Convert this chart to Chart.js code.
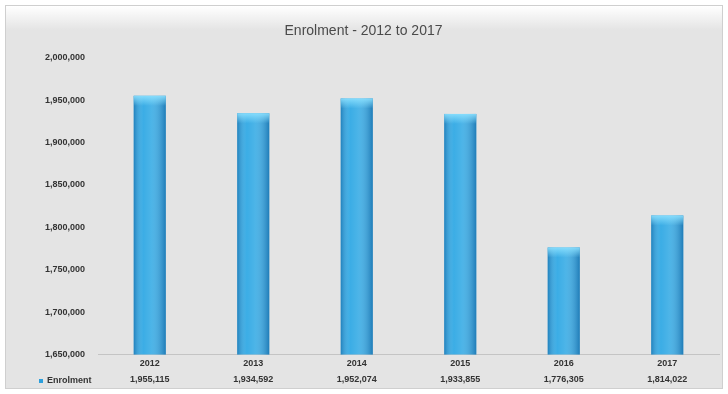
<!DOCTYPE html>
<html lang="en">
<head>
  <meta charset="UTF-8">
  <title>Enrolment - 2012 to 2017</title>
  <script src="https://cdn.jsdelivr.net/npm/chart.js"></script>
  <style>
    body {margin: 0; background: #ffffff;}
    .wrap {width: 728px; height: 394px; position: relative;}
  </style>
</head>
<body>
  <div class="wrap"><canvas id="enrolChart" width="728" height="394"></canvas></div>
  <script>
    const years = ['2012', '2013', '2014', '2015', '2016', '2017'];
    const enrolment = [1955115, 1934592, 1952074, 1933855, 1776305, 1814022];
    const seriesName = 'Enrolment';
    const chartTitle = 'Enrolment - 2012 to 2017';
    const yMin = 1650000, yMax = 2000000, yStep = 50000;

    const fmt = v => v.toLocaleString('en-US');
    const fontFam = '"Liberation Sans Narrow", "Liberation Sans", Arial, sans-serif';
    const tickFont = {family: fontFam, size: 9, weight: 'bold'};

    // panel background + border, like the spreadsheet chart frame
    const framePlugin = {
      id: 'frame',
      beforeDraw(chart) {
        const ctx = chart.ctx;
        ctx.save();
        ctx.fillStyle = '#ffffff';
        ctx.fillRect(0, 0, chart.width, chart.height);
        ctx.fillStyle = '#e4e4e4';
        ctx.fillRect(5, 5, 718, 384);
        const g = ctx.createLinearGradient(0, 6, 0, 30);
        g.addColorStop(0, '#ffffff');
        g.addColorStop(1, '#e4e4e4');
        ctx.fillStyle = g;
        ctx.fillRect(6, 6, 716, 24);
        ctx.strokeStyle = '#cfcfcf';
        ctx.lineWidth = 1;
        ctx.strokeRect(5.5, 5.5, 717, 383);
        ctx.restore();
      }
    };

    // shading on the bars (darker edges, light cap)
    const barShade = {
      id: 'barShade',
      afterDatasetsDraw(chart) {
        const ctx = chart.ctx;
        const bottom = chart.chartArea.bottom;
        chart.getDatasetMeta(0).data.forEach(bar => {
          const left = bar.x - bar.width / 2, w = bar.width;
          const h = Math.min(bar.base, bottom) - bar.y;
          const g = ctx.createLinearGradient(left, 0, left + w, 0);
          g.addColorStop(0, 'rgba(10,70,130,0.4)');
          g.addColorStop(0.3, 'rgba(255,255,255,0.06)');
          g.addColorStop(0.55, 'rgba(255,255,255,0.14)');
          g.addColorStop(1, 'rgba(10,70,130,0.45)');
          ctx.save();
          ctx.fillStyle = g;
          ctx.fillRect(left, bar.y, w, h);
          const cap = ctx.createLinearGradient(0, bar.y, 0, bar.y + 10);
          cap.addColorStop(0, 'rgba(140,225,255,0.9)');
          cap.addColorStop(1, 'rgba(140,225,255,0)');
          ctx.fillStyle = cap;
          ctx.fillRect(left, bar.y, w, 10);
          ctx.restore();
        });
      }
    };

    // legend key for the data table row
    const tableLegend = {
      id: 'tableLegend',
      afterDraw(chart) {
        const ctx = chart.ctx;
        const y = chart.scales.x.bottom - 8;
        ctx.save();
        ctx.fillStyle = '#2b9fdc';
        ctx.fillRect(39, y - 2, 4, 4);
        ctx.fillStyle = '#333333';
        ctx.font = 'bold 9px ' + fontFam;
        ctx.textBaseline = 'middle';
        ctx.fillText(seriesName, 47, y);
        ctx.restore();
      }
    };

    new Chart(document.getElementById('enrolChart'), {
      type: 'bar',
      data: {
        labels: years.map((y, i) => [y, fmt(enrolment[i])]),
        datasets: [{
          label: seriesName,
          data: enrolment,
          backgroundColor: '#2fa8e4',
          borderWidth: 0,
          barPercentage: 0.31,
          categoryPercentage: 1
        }]
      },
      options: {
        responsive: false,
        animation: false,
        layout: {padding: {left: 8, right: 9, top: 0, bottom: 5}},
        plugins: {
          legend: {display: false},
          tooltip: {enabled: false},
          title: {
            display: true,
            text: chartTitle,
            color: '#4a4a4a',
            font: {family: fontFam, size: 14, weight: 'normal'},
            padding: {top: 23, bottom: 18}
          }
        },
        scales: {
          x: {
            grid: {display: false, drawTicks: false},
            border: {display: true, color: '#c4c4c4'},
            ticks: {color: '#333333', font: {...tickFont, lineHeight: 1.8}, padding: 1, maxRotation: 0},
          },
          y: {
            min: yMin,
            max: yMax,
            afterFit(scale) { scale.width = 90; },
            grid: {display: false},
            border: {display: false},
            ticks: {stepSize: yStep, color: '#333333', font: tickFont, padding: 5, callback: v => fmt(v)}
          }
        }
      },
      plugins: [framePlugin, barShade, tableLegend]
    });
  </script>
</body>
</html>
